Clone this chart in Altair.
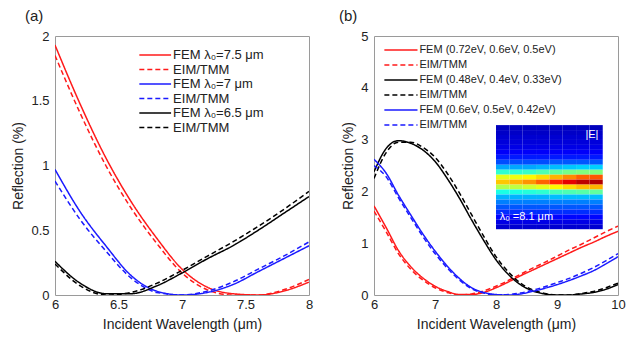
import altair as alt
import pandas as pd

FONT = "Liberation Sans"
TXT = "#222222"

# ---------------- panel (a) ----------------
xa = [6.0, 6.2, 6.4, 6.6, 6.8, 7.0, 7.2, 7.4, 7.6, 7.8, 8.0]
a_fem_75 = [1.93, 1.47, 1.06, 0.72, 0.44, 0.20, 0.06, 0.01, 0.00, 0.03, 0.10]
a_eim_75 = [1.85, 1.40, 1.00, 0.67, 0.40, 0.17, 0.04, 0.00, 0.00, 0.04, 0.12]
a_fem_70 = [0.97, 0.64, 0.38, 0.15, 0.03, 0.00, 0.02, 0.08, 0.18, 0.28, 0.38]
a_eim_70 = [0.88, 0.58, 0.34, 0.13, 0.02, 0.00, 0.03, 0.10, 0.20, 0.30, 0.41]
a_fem_65 = [0.26, 0.09, 0.01, 0.01, 0.07, 0.17, 0.28, 0.38, 0.50, 0.63, 0.76]
a_eim_65 = [0.24, 0.07, 0.00, 0.02, 0.09, 0.19, 0.30, 0.41, 0.53, 0.66, 0.80]
a_labels = ["FEM  λ₀=7.5 μm", "EIM/TMM", "FEM  λ₀=7 μm", "EIM/TMM",
            "FEM  λ₀=6.5 μm", "EIM/TMM"]
a_xticks = [6, 6.5, 7, 7.5, 8]
a_yticks = [0, 0.5, 1, 1.5, 2]

# ---------------- panel (b) ----------------
xb = [6.0, 6.2, 6.4, 6.6, 6.8, 7.0, 7.2, 7.4, 7.6, 7.8, 8.0,
      8.2, 8.4, 8.6, 8.8, 9.0, 9.2, 9.4, 9.6, 9.8, 10.0]
b_fem_red = [1.72, 1.30, 0.86, 0.55, 0.33, 0.17, 0.07, 0.01, 0.01, 0.05, 0.14,
             0.25, 0.37, 0.48, 0.59, 0.70, 0.81, 0.92, 1.02, 1.13, 1.23]
b_eim_red = [1.62, 1.22, 0.80, 0.50, 0.29, 0.14, 0.05, 0.00, 0.02, 0.08, 0.17,
             0.28, 0.40, 0.52, 0.63, 0.75, 0.87, 0.98, 1.10, 1.22, 1.33]
b_fem_blk = [2.38, 2.83, 2.98, 2.93, 2.80, 2.58, 2.25, 1.87, 1.45, 1.05, 0.68,
             0.40, 0.20, 0.08, 0.02, 0.00, 0.00, 0.02, 0.05, 0.11, 0.20]
b_eim_blk = [2.25, 2.75, 2.95, 2.95, 2.85, 2.66, 2.35, 1.97, 1.55, 1.13, 0.74,
             0.45, 0.23, 0.10, 0.03, 0.00, 0.00, 0.03, 0.07, 0.14, 0.23]
b_fem_blu = [2.62, 2.35, 1.93, 1.55, 1.18, 0.85, 0.56, 0.32, 0.14, 0.05, 0.01,
             0.00, 0.02, 0.07, 0.13, 0.20, 0.28, 0.37, 0.47, 0.60, 0.74]
b_eim_blu = [2.50, 2.28, 1.88, 1.50, 1.13, 0.80, 0.52, 0.29, 0.12, 0.04, 0.00,
             0.01, 0.04, 0.09, 0.16, 0.24, 0.32, 0.42, 0.53, 0.66, 0.80]
b_labels = ["FEM  (0.72eV, 0.6eV, 0.5eV)", "EIM/TMM",
            "FEM  (0.48eV, 0.4eV, 0.33eV)", "EIM/TMM",
            "FEM  (0.6eV, 0.5eV, 0.42eV)", "EIM/TMM"]
b_xticks = [6, 7, 8, 9, 10]
b_yticks = [0, 1, 2, 3, 4, 5]

# inset |E| field (rows top -> bottom, columns left -> right), normalised
field_E = [
    [0.06, 0.06, 0.06, 0.06, 0.06, 0.06, 0.06, 0.06],
    [0.07, 0.07, 0.07, 0.07, 0.07, 0.07, 0.07, 0.07],
    [0.08, 0.08, 0.08, 0.08, 0.08, 0.08, 0.08, 0.08],
    [0.09, 0.09, 0.09, 0.09, 0.09, 0.09, 0.09, 0.09],
    [0.10, 0.10, 0.10, 0.10, 0.10, 0.10, 0.10, 0.10],
    [0.12, 0.12, 0.12, 0.12, 0.12, 0.12, 0.12, 0.12],
    [0.15, 0.15, 0.15, 0.15, 0.15, 0.15, 0.15, 0.15],
    [0.20, 0.20, 0.20, 0.20, 0.21, 0.21, 0.21, 0.21],
    [0.29, 0.29, 0.29, 0.30, 0.31, 0.32, 0.33, 0.33],
    [0.42, 0.42, 0.43, 0.45, 0.47, 0.49, 0.50, 0.50],
    [0.60, 0.61, 0.63, 0.66, 0.70, 0.74, 0.78, 0.79],
    [0.68, 0.70, 0.73, 0.78, 0.84, 0.90, 0.94, 0.95],
    [0.55, 0.56, 0.58, 0.60, 0.63, 0.66, 0.69, 0.70],
    [0.40, 0.40, 0.41, 0.42, 0.44, 0.45, 0.46, 0.47],
    [0.30, 0.30, 0.30, 0.30, 0.31, 0.31, 0.31, 0.31],
    [0.25, 0.25, 0.25, 0.25, 0.25, 0.25, 0.25, 0.25],
    [0.21, 0.21, 0.21, 0.21, 0.21, 0.21, 0.21, 0.21],
    [0.17, 0.17, 0.17, 0.17, 0.17, 0.17, 0.17, 0.17],
    [0.13, 0.13, 0.13, 0.13, 0.13, 0.13, 0.13, 0.13],
    [0.10, 0.10, 0.10, 0.10, 0.10, 0.10, 0.10, 0.10],
    [0.08, 0.08, 0.08, 0.08, 0.08, 0.08, 0.08, 0.08],
]
inset_x = (8.0, 9.75)
inset_y = (1.27, 3.28)
jet_stops = [0.0, 0.125, 0.375, 0.625, 0.875, 1.0]
jet_colors = ["#000080", "#0000ff", "#00ffff", "#ffff00", "#ff0000", "#800000"]

RED, BLUE, BLACK = "#ff1a1a", "#1a1aff", "#000000"
KINDS = ["FEM", "EIM", "FEM", "EIM", "FEM", "EIM"]


def xenc(field, dom, ticks):
    return alt.X(field, type="quantitative",
                 scale=alt.Scale(domain=dom, nice=False, zero=False),
                 axis=alt.Axis(values=ticks, format="~r", labelFlush=False,
                               labelPadding=3, titlePadding=6,
                               title="Incident Wavelength (μm)"))


def yenc(field, dom, ticks):
    return alt.Y(field, type="quantitative",
                 scale=alt.Scale(domain=dom, nice=False, zero=False),
                 axis=alt.Axis(values=ticks, format="~r", labelPadding=6,
                               titlePadding=5, title="Reflection (%)"))


def panel(xs, curves, labels, colors, xdom, ydom, xt, yt, leg):
    keys = [f"s{i}" for i in range(len(curves))]
    rows = []
    for k, kind, ys in zip(keys, KINDS, curves):
        for x, y in zip(xs, ys):
            rows.append({"x": x, "y": y, "key": k, "kind": kind})
    df = pd.DataFrame(rows)
    color = alt.Color("key:N", scale=alt.Scale(domain=keys, range=colors), legend=None)
    dash = alt.StrokeDash("kind:N",
                          scale=alt.Scale(domain=["FEM", "EIM"], range=[[1, 0], [5, 3]]),
                          legend=None)
    lines = alt.Chart(df).mark_line(interpolate="monotone", strokeWidth=1.5, clip=True).encode(
        x=xenc("x", xdom, xt), y=yenc("y", ydom, yt), color=color, strokeDash=dash)

    lrows = []
    for i, (k, kind, lab) in enumerate(zip(keys, KINDS, labels)):
        lrows.append({"x1": leg["x1"], "x2": leg["x2"], "xt": leg["xt"],
                      "y": leg["y0"] - i * leg["dy"], "key": k, "kind": kind, "label": lab})
    ldf = pd.DataFrame(lrows)
    lrule = alt.Chart(ldf).mark_rule(strokeWidth=1.5).encode(
        x=xenc("x1", xdom, xt), x2="x2", y=yenc("y", ydom, yt), color=color, strokeDash=dash)
    ltext = alt.Chart(ldf).mark_text(align="left", baseline="middle", font=FONT,
                                     fontSize=leg["fs"], color=TXT).encode(
        x=xenc("xt", xdom, xt), y=yenc("y", ydom, yt), text="label:N")
    return [lines, lrule, ltext]


def finish(layers, w, title, tdx):
    return alt.layer(*layers).properties(
        width=w, height=259,
        title=alt.TitleParams(title, anchor="start", frame="group", dx=tdx, offset=6,
                              fontSize=15, fontWeight="normal", font=FONT, color=TXT))


la = panel(xa, [a_fem_75, a_eim_75, a_fem_70, a_eim_70, a_fem_65, a_eim_65],
           a_labels, [RED, RED, BLUE, BLUE, BLACK, BLACK],
           [6, 8], [0, 2], a_xticks, a_yticks,
           {"x1": 6.664, "x2": 6.914, "xt": 6.93, "y0": 1.853, "dy": 0.112, "fs": 13})

lb = panel(xb, [b_fem_red, b_eim_red, b_fem_blk, b_eim_blk, b_fem_blu, b_eim_blu],
           b_labels, [RED, RED, BLACK, BLACK, BLUE, BLUE],
           [6, 10], [0, 5], b_xticks, b_yticks,
           {"x1": 6.17, "x2": 6.713, "xt": 6.744, "y0": 4.73, "dy": 0.29, "fs": 11})

# inset heat map cells
nr, nc = len(field_E), len(field_E[0])
dxc = (inset_x[1] - inset_x[0]) / nc
dyc = (inset_y[1] - inset_y[0]) / nr
cells = []
for r, row in enumerate(field_E):
    for c, v in enumerate(row):
        cells.append({"x": inset_x[0] + c * dxc, "x2": inset_x[0] + (c + 1) * dxc,
                      "y": inset_y[1] - r * dyc, "y2": inset_y[1] - (r + 1) * dyc, "v": v})
cdf = pd.DataFrame(cells)
heat = alt.Chart(cdf).mark_rect(strokeWidth=0).encode(
    x=xenc("x", [6, 10], b_xticks), x2="x2",
    y=yenc("y", [0, 5], b_yticks), y2="y2",
    fill=alt.Fill("v:Q", scale=alt.Scale(domain=jet_stops, range=jet_colors, interpolate="rgb"),
                  legend=None))
inset_labels = ["|E|", "λ₀ =8.1 μm"]
inset_lx = [9.68, 8.06]
inset_ly = [3.09, 1.50]
t1 = alt.Chart(pd.DataFrame({"x": [inset_lx[0]], "y": [inset_ly[0]], "t": [inset_labels[0]]})).mark_text(
    align="right", baseline="middle", font=FONT, fontSize=11, color="white").encode(
    x=xenc("x", [6, 10], b_xticks), y=yenc("y", [0, 5], b_yticks), text="t:N")
t2 = alt.Chart(pd.DataFrame({"x": [inset_lx[1]], "y": [inset_ly[1]], "t": [inset_labels[1]]})).mark_text(
    align="left", baseline="middle", font=FONT, fontSize=11, color="white").encode(
    x=xenc("x", [6, 10], b_xticks), y=yenc("y", [0, 5], b_yticks), text="t:N")
lb = lb + [heat, t1, t2]

pa = finish(la, 254, "(a)", -30)
pb = finish(lb, 244, "(b)", -35)

chart = alt.hconcat(pa, pb, spacing=24).resolve_scale(
    color="independent", strokeDash="independent"
).properties(
    padding={"left": 3, "top": 0, "right": 0, "bottom": 0}
).configure_view(
    stroke="#9a9a9a", strokeWidth=1
).configure_axis(
    grid=False, ticks=False, domain=False,
    labelFont=FONT, titleFont=FONT, labelFontSize=13, titleFontSize=14,
    titleFontWeight="normal", labelColor=TXT, titleColor=TXT
)

chart.save("out.html", embed_options={"renderer": "svg", "actions": False})
